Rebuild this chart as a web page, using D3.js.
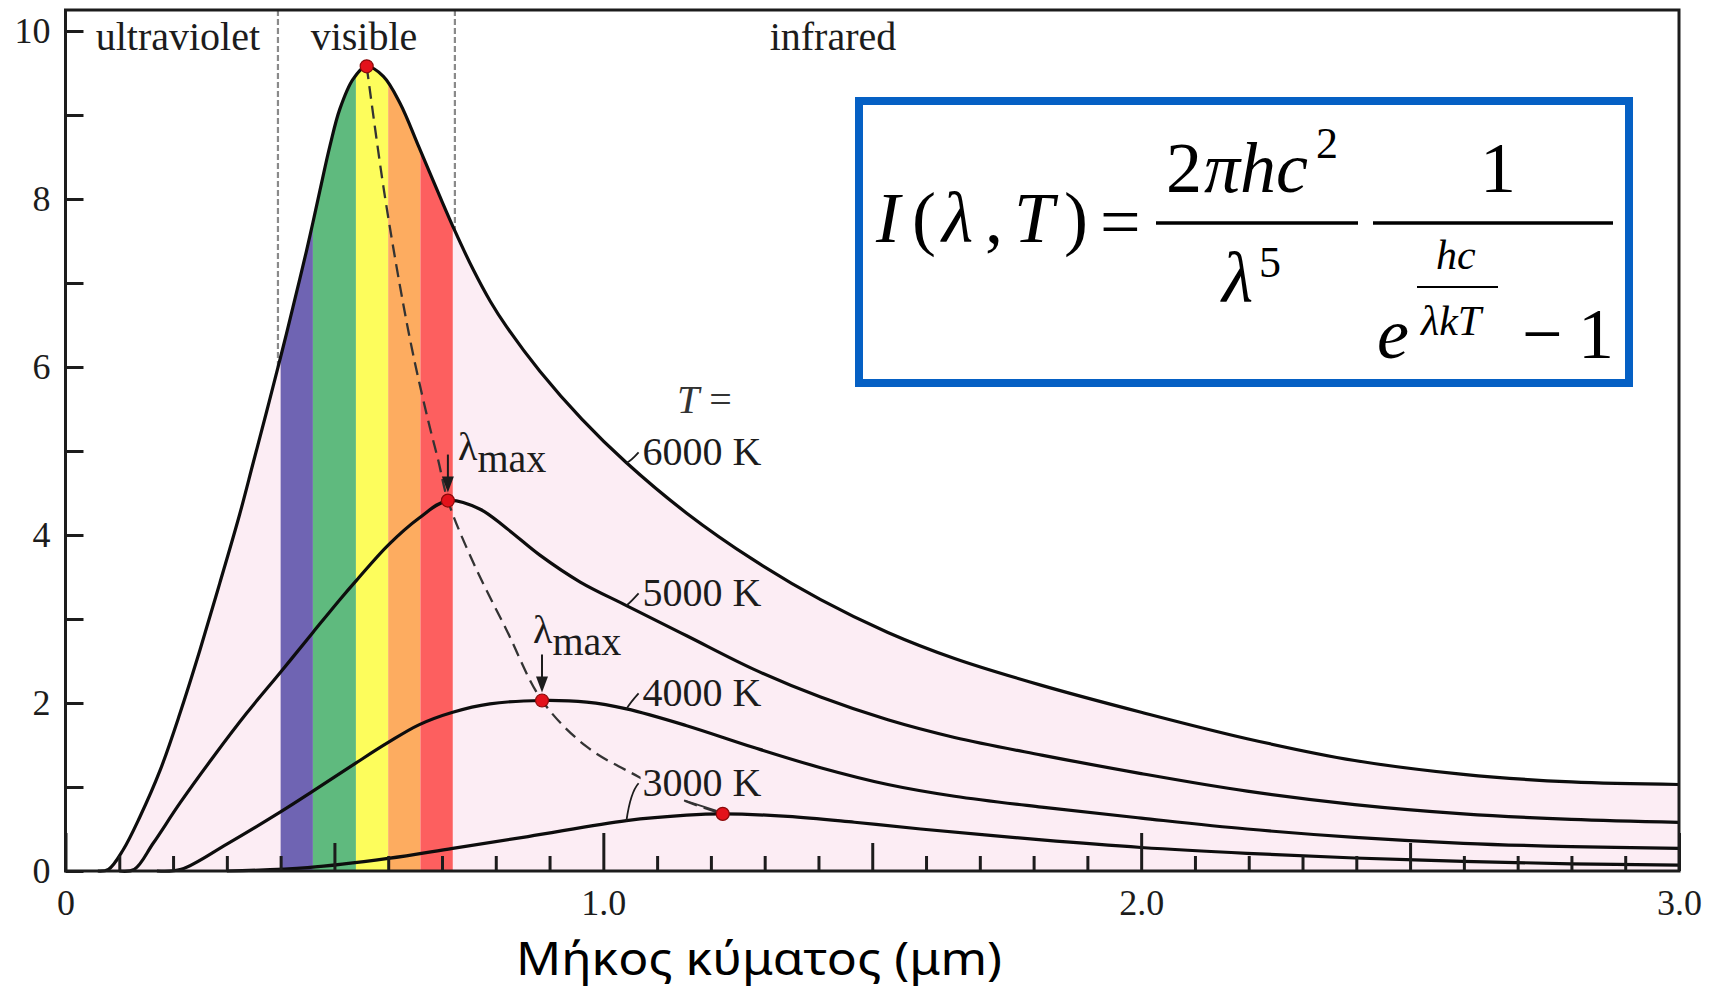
<!DOCTYPE html>
<html>
<head>
<meta charset="utf-8">
<script src="https://cdn.jsdelivr.net/npm/d3@7"></script>
<style>
  html, body { margin: 0; padding: 0; background: #ffffff; }
  svg { display: block; }
</style>
</head>
<body>
<svg id="chart" width="1710" height="990"></svg>
<script>
// Black-body spectral intensity (arbitrary units) versus wavelength in micrometres.
// Each curve is a list of [wavelength, intensity] pairs.
const temperatures = [6000, 5000, 4000, 3000];

const curve6000 = [
  [0.060, 0], [0.080, 0.02], [0.107, 0.25], [0.138, 0.64], [0.176, 1.20], [0.213, 1.88],
  [0.250, 2.63], [0.287, 3.43], [0.324, 4.25], [0.349, 4.86], [0.374, 5.47], [0.396, 6.02],
  [0.411, 6.40], [0.430, 6.90], [0.448, 7.38], [0.460, 7.72], [0.473, 8.10], [0.492, 8.64],
  [0.510, 9.07], [0.535, 9.43], [0.560, 9.58], [0.591, 9.46], [0.622, 9.14], [0.657, 8.62],
  [0.696, 8.03], [0.724, 7.62], [0.758, 7.16], [0.790, 6.78], [0.820, 6.48], [0.882, 5.95],
  [0.960, 5.38], [1.043, 4.86], [1.155, 4.26], [1.280, 3.70], [1.404, 3.23], [1.529, 2.84],
  [1.653, 2.53], [1.815, 2.21], [2.000, 1.89], [2.197, 1.575], [2.397, 1.315], [2.599, 1.15],
  [2.800, 1.06], [3.000, 1.03]
];

const curve5000 = [
  [0.100, 0], [0.128, 0.02], [0.163, 0.33], [0.213, 0.81], [0.275, 1.36], [0.337, 1.88],
  [0.399, 2.36], [0.460, 2.84], [0.510, 3.23], [0.541, 3.46], [0.600, 3.88], [0.657, 4.20],
  [0.711, 4.41], [0.770, 4.31], [0.820, 4.08], [0.882, 3.76], [0.957, 3.44], [1.043, 3.16],
  [1.155, 2.80], [1.280, 2.40], [1.404, 2.07], [1.529, 1.80], [1.653, 1.59], [1.815, 1.38],
  [2.000, 1.16], [2.197, 0.95], [2.397, 0.79], [2.599, 0.68], [2.800, 0.615], [3.000, 0.58]
];

const curve4000 = [
  [0.170, 0], [0.215, 0.02], [0.300, 0.32], [0.399, 0.70], [0.460, 0.95], [0.541, 1.29],
  [0.600, 1.53], [0.657, 1.74], [0.720, 1.89], [0.789, 1.99], [0.886, 2.03], [0.969, 2.01],
  [1.043, 1.93], [1.155, 1.73], [1.280, 1.47], [1.404, 1.23], [1.529, 1.03], [1.653, 0.89],
  [1.815, 0.76], [2.000, 0.63], [2.197, 0.50], [2.397, 0.40], [2.599, 0.33], [2.800, 0.29],
  [3.000, 0.27]
];

const curve3000 = [
  [0.300, 0], [0.450, 0.04], [0.600, 0.15], [0.720, 0.27], [0.860, 0.41], [1.043, 0.60],
  [1.155, 0.665], [1.222, 0.68], [1.343, 0.65], [1.467, 0.58], [1.590, 0.50], [1.815, 0.37],
  [2.000, 0.28], [2.197, 0.21], [2.397, 0.155], [2.599, 0.115], [2.800, 0.085], [3.000, 0.07]
];

// Peak of each curve (Wien's displacement law)
const peakLambda = [0.560, 0.711, 0.886, 1.222];
const peakIntensity = [9.58, 4.41, 2.03, 0.68];

// Locus of the peaks, drawn dashed
const wienLocus = [
  [0.560, 9.58], [0.591, 8.15], [0.622, 6.96], [0.646, 6.16], [0.674, 5.37], [0.693, 4.89],
  [0.711, 4.41], [0.759, 3.66], [0.820, 2.87], [0.886, 2.03], [0.969, 1.48], [1.066, 1.12],
  [1.150, 0.84], [1.222, 0.68]
];

// Visible spectrum bands (micrometres) and their colours
const bandStarts = [0.40, 0.46, 0.54, 0.60, 0.66];
const bandEnds   = [0.46, 0.54, 0.60, 0.66, 0.72];
const bandColors = ["#6f64b3", "#5fba7e", "#fdfd5c", "#fdac60", "#fd5f5f"];

// Region boundaries and labels
const regionBounds = [0.395, 0.724];
const regionNames = ["ultraviolet", "visible", "infrared"];
const regionLabelX = [0.209, 0.555, 1.427];

// Axis ticks and their labels
const xMajorTicks = [0, 1, 2, 3];
const xTickLabels = ["0", "1.0", "2.0", "3.0"];
const xHalfTicks = [0.5, 1.5, 2.5];
const xMinorTicks = [0.1,0.2,0.3,0.4,0.6,0.7,0.8,0.9,1.1,1.2,1.3,1.4,1.6,1.7,1.8,1.9,2.1,2.2,2.3,2.4,2.6,2.7,2.8,2.9];
const yTicks = [0, 1, 2, 3, 4, 5, 6, 7, 8, 9, 10];
const yTickLabels = ["0", "", "2", "", "4", "", "6", "", "8", "", "10"];

// Curve labels
const curveLabels = ["6000 K", "5000 K", "4000 K", "3000 K"];
const curveLabelLambda = 1.073;
const curveLabelIntensity = [4.83, 3.15, 1.96, 0.89];
const leaderLambda = 1.043;

const xTitle = "Μήκος κύματος (μm)";

// ---------------------------------------------------------------
const svg = d3.select("#chart");
const W = 1710, H = 990;
const serif = "'Liberation Serif', 'Times New Roman', serif";
const ink = "#1c1c1c";
const pink = "#fcedf4";

const x = d3.scaleLinear().domain([0, 3]).range([65.5, 1679]);
const y = d3.scaleLinear().domain([0, 10]).range([871, 31]);
const frameTop = 10;

const smooth = d3.curveCatmullRom.alpha(0.5);
const line = d3.line().x(d => x(d[0])).y(d => y(d[1])).curve(smooth);
const area = d3.area().x(d => x(d[0])).y0(y(0)).y1(d => y(d[1])).curve(smooth);

const defs = svg.append("defs");
defs.append("clipPath").attr("id", "under6000")
  .append("path").attr("d", area(curve6000));
const mask = defs.append("mask").attr("id", "above6000");
mask.append("rect").attr("x", 0).attr("y", 0).attr("width", W).attr("height", H).attr("fill", "#fff");
mask.append("path").attr("d", area(curve6000)).attr("fill", "#000");

// Pink area under the hottest curve
svg.append("path").attr("d", area(curve6000)).attr("fill", pink);

// Visible spectrum colour bands, clipped to the area under the 6000 K curve
svg.append("g").attr("clip-path", "url(#under6000)")
  .selectAll("rect").data(bandStarts).join("rect")
  .attr("x", d => x(d))
  .attr("width", (d, i) => x(bandEnds[i]) - x(d))
  .attr("y", frameTop)
  .attr("height", y(0) - frameTop)
  .attr("fill", (d, i) => bandColors[i]);

// Region boundaries (dashed, above the 6000 K curve only)
svg.append("g").attr("mask", "url(#above6000)")
  .selectAll("line").data(regionBounds).join("line")
  .attr("x1", d => x(d)).attr("x2", d => x(d))
  .attr("y1", frameTop).attr("y2", y(0))
  .attr("stroke", "#8a8a8a").attr("stroke-width", 2.2)
  .attr("stroke-dasharray", "6,3");

// Region names
svg.append("g").selectAll("text").data(regionNames).join("text")
  .attr("x", (d, i) => x(regionLabelX[i]))
  .attr("y", 50)
  .attr("text-anchor", "middle")
  .attr("font-family", serif).attr("font-size", 40).attr("fill", ink)
  .text(d => d);

// Wien displacement locus
svg.append("path").attr("d", line(wienLocus))
  .attr("fill", "none").attr("stroke", "#333").attr("stroke-width", 2.3)
  .attr("stroke-dasharray", "13,7");

// Spectral curves
const curves = [curve6000, curve5000, curve4000, curve3000];
svg.append("g").selectAll("path").data(curves).join("path")
  .attr("d", d => line(d))
  .attr("fill", "none").attr("stroke", "#0d0d0d").attr("stroke-width", 3.2)
  .attr("stroke-linejoin", "round");

// Curve labels, with a background under the 3000 K label to break the dashed locus
const labelG = svg.append("g");
curveLabels.forEach((lab, i) => {
  const lx = x(curveLabelLambda), ly = y(curveLabelIntensity[i]);
  if (i === 3) {
    labelG.append("rect").attr("x", lx - 2).attr("y", ly - 28)
      .attr("width", 124).attr("height", 31).attr("fill", pink);
  }
  const pt = curves[i].find(p => p[0] === leaderLambda);
  const px = x(pt[0]), py = y(pt[1]);
  labelG.append("path")
    .attr("d", `M${px},${py} Q${px + 4},${ly - 4} ${lx - 4},${ly - 13}`)
    .attr("fill", "none").attr("stroke", ink).attr("stroke-width", 1.8);
  labelG.append("text").attr("x", lx).attr("y", ly)
    .attr("font-family", serif).attr("font-size", 40).attr("fill", ink)
    .text(lab);
});
// short leader from the 3000 K label to its peak
labelG.append("line")
  .attr("x1", x(1.150)).attr("y1", y(0.84))
  .attr("x2", x(peakLambda[3]) - 6).attr("y2", y(peakIntensity[3]) - 3)
  .attr("stroke", "#333").attr("stroke-width", 1.8);

// "T ="
const tLab = svg.append("text").attr("x", 677).attr("y", 413)
  .attr("font-family", serif).attr("font-size", 40).attr("fill", "#333");
tLab.append("tspan").attr("font-style", "italic").text("T");
tLab.append("tspan").text(" =");

// λmax annotations with arrows pointing to the 5000 K and 4000 K peaks
const lmaxPos = [[458, 460], [533, 643]];
[1, 2].forEach((pi, k) => {
  const ax = x(peakLambda[pi]);
  const tip = y(peakIntensity[pi]) - 8;
  const tail = tip - 38;
  svg.append("line").attr("x1", ax).attr("x2", ax).attr("y1", tail).attr("y2", tip - 12)
    .attr("stroke", ink).attr("stroke-width", 2);
  svg.append("path").attr("d", `M${ax - 6},${tip - 16} L${ax + 6},${tip - 16} L${ax},${tip} Z`)
    .attr("fill", ink);
  const t = svg.append("text").attr("x", lmaxPos[k][0]).attr("y", lmaxPos[k][1])
    .attr("font-family", serif).attr("font-size", 40).attr("fill", ink);
  t.append("tspan").text("λ");
  t.append("tspan").attr("dy", 12).text("max");
});

// Peak markers
svg.append("g").selectAll("circle").data(peakLambda).join("circle")
  .attr("cx", d => x(d))
  .attr("cy", (d, i) => y(peakIntensity[i]))
  .attr("r", 6.5)
  .attr("fill", "#e3121b").attr("stroke", "#8a0a0a").attr("stroke-width", 1.2);

// Axes
const xAxisG = svg.append("g").attr("transform", `translate(0,${y(0)})`);
xAxisG.append("g").call(d3.axisBottom(x).tickValues(xMinorTicks).tickSize(-15).tickFormat(""));
xAxisG.append("g").call(d3.axisBottom(x).tickValues(xHalfTicks).tickSize(-28).tickFormat(""));
xAxisG.append("g").call(d3.axisBottom(x).tickValues(xMajorTicks).tickSize(-38).tickPadding(18)
  .tickFormat((d, i) => xTickLabels[i]));
xAxisG.selectAll(".domain").remove();
xAxisG.selectAll(".tick line").attr("stroke", ink).attr("stroke-width", 3);
xAxisG.selectAll(".tick text").attr("font-family", serif).attr("font-size", 36).attr("fill", ink);

const yAxisG = svg.append("g").attr("transform", `translate(${x(0)},0)`);
yAxisG.call(d3.axisLeft(y).tickValues(yTicks).tickSize(-18).tickPadding(15)
  .tickFormat((d, i) => yTickLabels[i]));
yAxisG.select(".domain").remove();
yAxisG.selectAll(".tick line").attr("stroke", ink).attr("stroke-width", 3);
yAxisG.selectAll(".tick text").attr("font-family", serif).attr("font-size", 36).attr("fill", ink);

// Plot frame
svg.append("rect")
  .attr("x", x(0)).attr("y", frameTop)
  .attr("width", x(3) - x(0)).attr("height", y(0) - frameTop)
  .attr("fill", "none").attr("stroke", ink).attr("stroke-width", 3);

// Axis title
svg.append("text").attr("x", 759).attr("y", 975).attr("text-anchor", "middle")
  .attr("font-family", "'Comic Sans MS', 'Noto Sans', sans-serif").attr("font-size", 46)
  .attr("textLength", 486).attr("lengthAdjust", "spacingAndGlyphs")
  .attr("fill", "#000").text(xTitle);

// Planck's law box
const box = svg.append("g");
box.append("rect").attr("x", 859).attr("y", 101).attr("width", 770).attr("height", 282)
  .attr("fill", "#fff").attr("stroke", "#0560c4").attr("stroke-width", 8);

const eq = box.append("g").attr("font-family", serif).attr("fill", "#000");
const put = (tx, ty, s, size, italic) => eq.append("text").attr("x", tx).attr("y", ty)
  .attr("font-size", size).attr("font-style", italic ? "italic" : "normal").text(s);
put(876, 242, "I", 72, true);
put(912, 242, "(", 72, false);
put(942, 242, "λ", 72, true);
put(985, 242, ",", 72, false);
put(1014, 242, "T", 72, true);
put(1064, 242, ")", 72, false);
put(1100, 246, "=", 72, false);
put(1166, 192, "2", 72, false);
put(1204, 192, "πhc", 72, true);
put(1316, 158, "2", 44, false);
eq.append("line").attr("x1", 1156).attr("x2", 1358).attr("y1", 223).attr("y2", 223)
  .attr("stroke", "#000").attr("stroke-width", 3.5);
put(1222, 302, "λ", 72, true);
put(1259, 277, "5", 44, false);
eq.append("line").attr("x1", 1373).attr("x2", 1613).attr("y1", 223).attr("y2", 223)
  .attr("stroke", "#000").attr("stroke-width", 3.5);
put(1480, 192, "1", 72, false);
put(1377, 358, "e", 72, true);
put(1436, 269, "hc", 42, true);
eq.append("line").attr("x1", 1417).attr("x2", 1498).attr("y1", 287).attr("y2", 287)
  .attr("stroke", "#000").attr("stroke-width", 2);
put(1421, 335, "λkT", 42, true);
put(1522, 358, "−", 72, false);
put(1578, 358, "1", 72, false);
</script>
</body>
</html>
